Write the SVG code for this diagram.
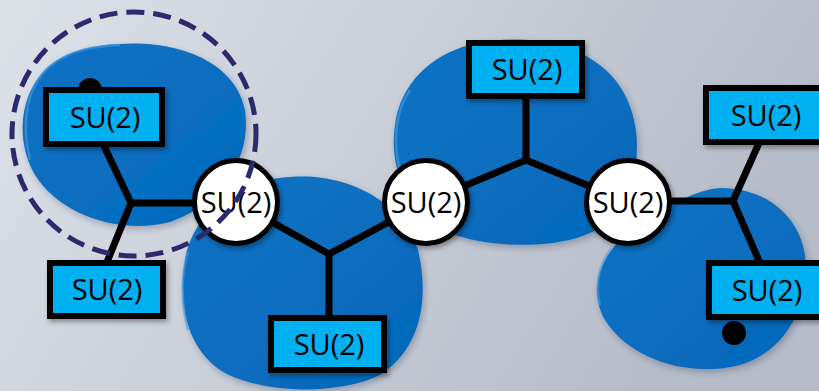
<svg xmlns="http://www.w3.org/2000/svg" width="819" height="391" viewBox="0 0 819 391">
<defs>
<linearGradient id="bg" x1="0" y1="0" x2="1" y2="0.3">
<stop offset="0" stop-color="#dde1e8"/>
<stop offset="1" stop-color="#b6bcc8"/>
</linearGradient>
<linearGradient id="blobfill" x1="0" y1="0" x2="1" y2="1">
<stop offset="0" stop-color="#0a72c4"/>
<stop offset="1" stop-color="#0569ba"/>
</linearGradient>
<filter id="sh" x="-20%" y="-20%" width="150%" height="150%">
<feDropShadow dx="2" dy="3" stdDeviation="2.5" flood-color="#000" flood-opacity="0.35"/>
</filter>
<filter id="bsh" x="-10%" y="-10%" width="130%" height="130%">
<feDropShadow dx="2" dy="3" stdDeviation="3" flood-color="#203050" flood-opacity="0.3"/>
</filter>
</defs>
<style>
.blob{fill:url(#blobfill);filter:url(#bsh)}
.hl{fill:none;stroke:#4a9be0;stroke-width:2.5;opacity:0.6}
.box{fill:#00b0f0;stroke:#000;stroke-width:6;filter:url(#sh)}
.circ{fill:#fff;stroke:#000;stroke-width:5;filter:url(#sh)}
.lbl{font-family:"Open Sans","Noto Sans","Liberation Sans",sans-serif;font-size:29px;fill:#000;text-anchor:middle}
.edge{fill:none;stroke:#000;stroke-width:7;stroke-linejoin:miter}
</style>
<rect width="819" height="391" fill="url(#bg)"/>
<g id="blobs">
<path class="blob" d="M120 44 C175 40 235 60 245 110 C252 160 220 205 170 222 C120 235 60 215 35 175 C15 140 20 95 45 70 C65 50 95 45 120 44 Z"/>
<path class="blob" d="M290 177 C350 172 405 205 418 250 C430 300 420 350 380 375 C340 395 260 395 220 370 C185 345 178 300 185 260 C192 215 235 180 290 177 Z"/>
<path class="blob" d="M470 45 C530 30 600 45 625 95 C645 135 640 185 610 220 C580 250 500 250 455 235 C410 220 388 170 395 125 C400 85 430 55 470 45 Z"/>
<path class="blob" d="M720 188 C770 188 800 220 805 255 C810 300 790 350 740 365 C690 378 630 360 605 320 C585 285 605 245 640 225 C670 205 695 190 720 188 Z"/>
<path class="hl" d="M30 160 C20 120 28 85 50 66 C70 50 95 46 120 45"/>
<path class="hl" d="M188 330 C180 300 182 270 188 252"/>
<path class="hl" d="M400 170 C392 140 396 110 410 90"/>
<path class="hl" d="M600 305 C594 285 600 262 612 248"/>
</g>
<circle cx="90" cy="90" r="12" fill="#000"/>
<circle cx="734" cy="333" r="12" fill="#000"/>
<g id="connectors">
<polyline class="edge" points="104,146 131,203 107,262"/>
<line class="edge" x1="131" y1="203" x2="236" y2="203"/>
<polyline class="edge" points="236,202 329,254 426,202"/>
<line class="edge" x1="329" y1="254" x2="329" y2="318"/>
<polyline class="edge" points="426,202 526,160 628,202"/>
<line class="edge" x1="526" y1="160" x2="526" y2="96"/>
<line class="edge" x1="628" y1="201" x2="733" y2="201"/>
<polyline class="edge" points="759,143 733,201 760,263"/>
</g>
<g id="n1"><rect class="box" x="46" y="90" width="116" height="54"/><text class="lbl" x="105" y="128">SU(2)</text></g>
<g id="n2"><rect class="box" x="50" y="263" width="113" height="53"/><text class="lbl" x="107" y="300">SU(2)</text></g>
<g id="n3"><circle class="circ" cx="236" cy="202" r="41.5"/><text class="lbl" x="236" y="213">SU(2)</text></g>
<g id="n4"><rect class="box" x="271" y="318" width="113" height="52"/><text class="lbl" x="329" y="355">SU(2)</text></g>
<g id="n5"><circle class="circ" cx="426" cy="202" r="41.5"/><text class="lbl" x="426" y="213">SU(2)</text></g>
<g id="n6"><rect class="box" x="469" y="43" width="113" height="53"/><text class="lbl" x="527" y="80">SU(2)</text></g>
<g id="n7"><circle class="circ" cx="628" cy="202" r="41.5"/><text class="lbl" x="628" y="213">SU(2)</text></g>
<g id="n8"><rect class="box" x="706" y="88" width="117" height="54"/><text class="lbl" x="766" y="126">SU(2)</text></g>
<g id="n9"><rect class="box" x="709" y="263" width="117" height="54"/><text class="lbl" x="767" y="301">SU(2)</text></g>
<circle id="region" cx="134" cy="134" r="122" fill="none" stroke="#2b2a6c" stroke-width="5" stroke-dasharray="18 9"/>
</svg>
